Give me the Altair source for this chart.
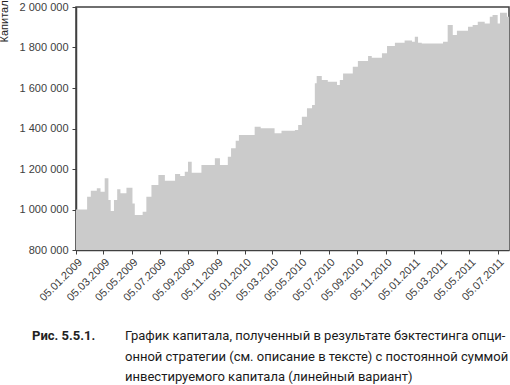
import altair as alt
import pandas as pd

dates = [
    "2009-01-05", "2009-01-29", "2009-02-06", "2009-02-19", "2009-02-27",
    "2009-03-08", "2009-03-16", "2009-03-21", "2009-03-28", "2009-04-04",
    "2009-04-11", "2009-04-24", "2009-05-07", "2009-05-12", "2009-05-29",
    "2009-06-06", "2009-06-17", "2009-07-02", "2009-07-16", "2009-08-07",
    "2009-08-18", "2009-08-28", "2009-09-04", "2009-09-12", "2009-10-03",
    "2009-11-01", "2009-11-12", "2009-11-29", "2009-12-06", "2009-12-16",
    "2009-12-23", "2010-01-26", "2010-02-08", "2010-03-10", "2010-03-25",
    "2010-04-23", "2010-04-30", "2010-05-08", "2010-05-19", "2010-05-30",
    "2010-06-05", "2010-06-09", "2010-06-20", "2010-07-03", "2010-07-23",
    "2010-07-29", "2010-08-05", "2010-08-26", "2010-09-06", "2010-09-28",
    "2010-10-06", "2010-10-28", "2010-11-08", "2010-11-25", "2010-12-16",
    "2011-01-01", "2011-01-07", "2011-01-14", "2011-01-22", "2011-03-09",
    "2011-03-19", "2011-03-30", "2011-04-08", "2011-05-02", "2011-05-12",
    "2011-05-23", "2011-06-07", "2011-06-18", "2011-06-24", "2011-07-05",
    "2011-07-10", "2011-07-25", "2011-07-31",
]
capital = [
    1000000, 1063000, 1093000, 1105000, 1088000,
    1154000, 1047000, 993000, 1047000, 1100000,
    1080000, 1108000, 1030000, 973000, 989000,
    1063000, 1121000, 1170000, 1142000, 1175000,
    1165000, 1187000, 1236000, 1182000, 1220000,
    1253000, 1220000, 1260000, 1302000, 1340000,
    1368000, 1409000, 1401000, 1376000, 1389000,
    1393000, 1417000, 1458000, 1500000, 1516000,
    1623000, 1659000, 1640000, 1631000, 1615000,
    1640000, 1672000, 1705000, 1733000, 1758000,
    1750000, 1771000, 1807000, 1824000, 1834000,
    1829000, 1853000, 1824000, 1820000, 1829000,
    1911000, 1862000, 1883000, 1903000, 1911000,
    1927000, 1919000, 1952000, 1960000, 1919000,
    1972000, 1952000, 1952000,
]
tick_dates = [
    "2009-01-05", "2009-03-05", "2009-05-05", "2009-07-05", "2009-09-05",
    "2009-11-05", "2010-01-05", "2010-03-05", "2010-05-05", "2010-07-05",
    "2010-09-05", "2010-11-05", "2011-01-05", "2011-03-05", "2011-05-05",
    "2011-07-05",
]
x_domain = ["2009-01-05", "2011-07-29T12:00:00"]
y_ticks = [800000, 1000000, 1200000, 1400000, 1600000, 1800000, 2000000]
y_title = "Капитал"
fig_label = "Рис. 5.5.1."
caption_lines = [
    "График капитала, полученный в результате бэктестинга опци-",
    "онной стратегии (см. описание в тексте) с постоянной суммой",
    "инвестируемого капитала (линейный вариант)",
]


def ms(d):
    return int(pd.Timestamp(d).value // 10**6)


df = pd.DataFrame({"date": [ms(d) for d in dates], "capital": capital})

AX_FONT = "Liberation Sans"

area = alt.Chart(df).mark_area(
    interpolate="step-after", color="#cbcbcb", clip=True
).encode(
    x=alt.X(
        "date:T",
        scale=alt.Scale(type="utc", domain=[ms(d) for d in x_domain]),
        axis=alt.Axis(
            values=[ms(d) for d in tick_dates],
            labelExpr="utcFormat(datum.value, '%d.%m.%Y')",
            labelAngle=-45,
            labelAlign="right",
            labelBaseline="top",
            labelPadding=2,
            tickSize=4,
            title=None,
            grid=False,
            labelFont=AX_FONT,
            labelFontSize=11,
            labelColor="#404040",
            domainColor="#404040",
            domainWidth=1.5,
            tickColor="#404040",
            labelOverlap=False,
        ),
    ),
    y=alt.Y(
        "capital:Q",
        scale=alt.Scale(domain=[800000, 2000000], nice=False, zero=False),
        axis=alt.Axis(
            values=y_ticks,
            labelExpr="replace(format(datum.value, ','), regexp(',', 'g'), ' ')",
            tickSize=4,
            labelPadding=4,
            grid=False,
            labelFont=AX_FONT,
            labelFontSize=11,
            labelColor="#404040",
            domainColor="#404040",
            domainWidth=1.5,
            tickColor="#404040",
            title=y_title,
            titleFont=AX_FONT,
            titleFontSize=11,
            titleFontWeight="normal",
            titleColor="#222222",
            titleAngle=270,
            titleAlign="left",
            titleBaseline="middle",
            titleX=-72,
            titleY=35,
        ),
    ),
)

label = alt.Chart(pd.DataFrame({"t": [fig_label]})).mark_text(
    align="left", baseline="middle", font="Roboto", fontSize=13,
    fontWeight="bold", color="#222222"
).encode(text="t:N", x=alt.value(-44), y=alt.value(329))

caption = alt.Chart(pd.DataFrame({"t": ["\n".join(caption_lines)]})).mark_text(
    align="left", baseline="middle", font="Roboto", fontSize=13,
    color="#1a1a1a", lineBreak="\n", lineHeight=20.5
).encode(text="t:N", x=alt.value(49), y=alt.value(329))

chart = alt.layer(area, label, caption).properties(
    width=433,
    height=243,
    autosize=alt.AutoSizeParams(type="none"),
    padding={"left": 76, "top": 7, "right": 1, "bottom": 135},
).configure_view(stroke="#404040", strokeWidth=1.5)

chart.save("out.html", embed_options={"renderer": "svg", "actions": False})
